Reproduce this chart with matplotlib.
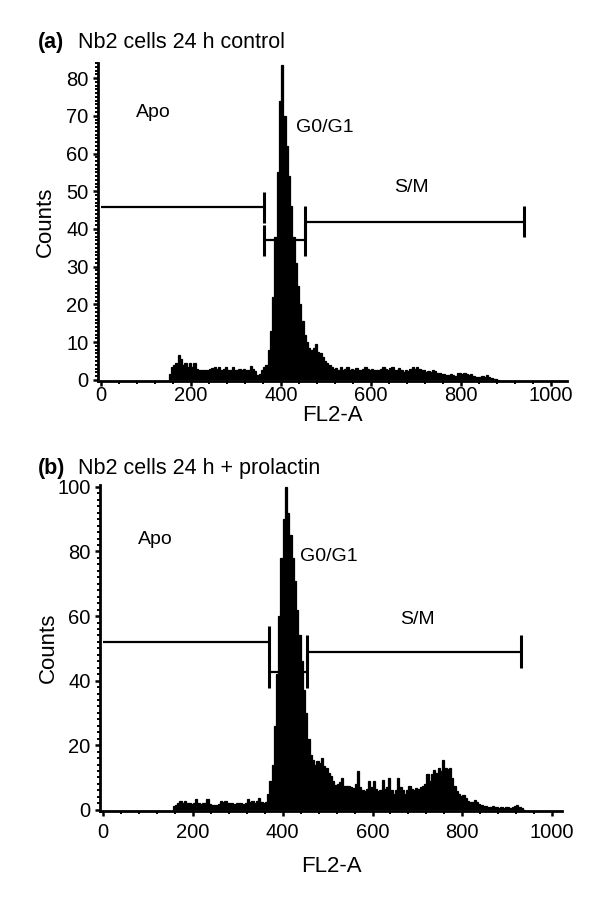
import numpy as np
import matplotlib.pyplot as plt
from matplotlib.ticker import MultipleLocator

plt.rcParams['font.family'] = ['Liberation Sans', 'DejaVu Sans']

# FL2-A histogram, panel (a): control, bins of 5 channels starting at 150
start_a = 150
counts_a = [
    1.5, 3.5, 4, 4.5, 6.5, 5.5, 4, 4.5, 3.5, 4.5,
    3.5, 4.5, 3, 2.5, 2.5, 2.5, 2.5, 2.5, 2.8, 3.2,
    3.5, 3, 3.5, 2.5, 2.8, 3.5, 2.6, 2.5, 3.3, 2.6,
    2.5, 3, 2.5, 2.8, 2.5, 2.6, 3.8, 3, 2.3, 1.3,
    1.5, 2.5, 3.5, 4, 8, 13, 22, 38, 55, 74,
    83.5, 70, 62, 54, 46, 38, 31, 25, 20, 15.5,
    12, 10, 8.5, 8, 8.5, 9.5, 7.5, 7, 6, 5,
    4.5, 4, 3.5, 2.8, 3.2, 2.6, 3.5, 2.5, 3, 3.5,
    2.6, 2.8, 2.5, 3.2, 2.6, 2.5, 2.8, 3.5, 3, 2.5,
    3, 2.5, 2.6, 2.5, 2.8, 3.5, 3, 2.5, 3.2, 3.5,
    2.6, 2.5, 3.1, 2.6, 2.2, 2.5, 2.4, 3, 3.5, 2.8,
    3.3, 3, 2.6, 2.6, 2.2, 2.4, 2.1, 2.5, 2.3, 1.8,
    1.8, 1.5, 1.5, 1.2, 1.3, 1.6, 1.2, 1.0, 1.8, 1.8,
    1.6, 1.8, 1.5, 1.2, 1.5, 1.0, 0.8, 0.8, 0.8, 1.0,
    0.8, 1.4, 0.8, 0.4, 0.3, 0.3, 0,
]

# panel (b): + prolactin, bins of 5 channels starting at 155
start_b = 155
counts_b = [
    1, 1.5, 2, 2.8, 2.2, 2.6, 2, 2, 1.8, 2.2,
    3.3, 2, 1.8, 2.2, 2, 3.3, 1.8, 1.5, 1.6, 1.5,
    1.8, 2.6, 2.4, 2.6, 2, 2, 2.2, 1.8, 2, 2.2,
    2, 1.8, 2.2, 3.4, 2.4, 2.6, 2.2, 2.8, 3.6, 2.4,
    2, 2.5, 5, 9, 14, 26, 42, 60, 78, 90,
    100, 92, 85, 78, 71, 62, 54, 46, 37, 30,
    22, 17, 15.5, 14, 15, 14.5, 16, 13.5, 13, 11.5,
    10.5, 9, 7.8, 8, 8.5, 9.8, 7.5, 7.5, 7.2, 7,
    6.8, 8, 11.9, 7, 6, 5.7, 6.5, 8.8, 7, 8.8,
    6.5, 5.7, 6.2, 9.3, 6.5, 7, 9.8, 6, 5, 6,
    9.8, 7, 6, 5, 6, 7.2, 6.5, 6, 6.7, 6.5,
    7, 7.5, 8, 11, 9, 11, 12.4, 11.5, 13, 12,
    15.3, 13, 12.5, 13, 9.8, 7.5, 5.7, 5, 4.3, 4.5,
    3.5, 2.6, 2.4, 2.5, 3.1, 2.5, 1.8, 1.5, 1.2, 1,
    0.8, 0.8, 1, 0.7, 0.8, 0.6, 0.8, 0.6, 0.8, 0.7,
    0.6, 0.7, 1.2, 1.5, 0.8, 0.4, 0,
]
bin_width = 5

# gates: start, end, level
gate_names = ["Apo", "G0/G1", "S/M"]
gates_a = [(0, 362, 45.8), (362, 452, 37), (452, 940, 41.9)]
gates_b = [(0, 370, 52), (370, 455, 42.8), (455, 930, 49)]
labels_a = [(78, 71), (432, 67), (650, 51)]
labels_b = [(78, 83.6), (438, 78.6), (662, 59)]

tags = ["(a)", "(b)"]
titles = ["Nb2 cells 24 h control", "Nb2 cells 24 h + prolactin"]

fig = plt.figure(figsize=(6, 9.14), dpi=100)
W, H = 600, 914


def add_ax(l, r, t, b):
    return fig.add_axes([l / W, 1 - b / H, (r - l) / W, (b - t) / H])


ax_a = add_ax(98, 567, 63, 381)
ax_b = add_ax(100, 562, 485, 811)

panels = [
    (ax_a, start_a, counts_a, gates_a, labels_a, 4.1, (-7, 1035), (-0.3, 84), 10, 1, -0.075, 0),
    (ax_b, start_b, counts_b, gates_b, labels_b, 5.0, (-7, 1022), (-0.4, 100.6), 20, 2, -0.138, 5),
]

for ax, start, counts, gates, labels, half, xl, yl, ymaj, ymin, xlab_y, xpad in panels:
    edges = start + bin_width * np.arange(len(counts) + 1)
    ax.stairs(counts, edges, fill=True, facecolor='black', edgecolor='black', lw=0.9)

    for x0, x1, y in gates:
        ax.plot([x0, x1], [y, y], color='black', lw=1.6, solid_capstyle='butt')
        for xe in (x0, x1):
            if xe > 0:
                ax.plot([xe, xe], [y - half, y + half], color='black', lw=2.2,
                        solid_capstyle='butt')
    for name, (lx, ly) in zip(gate_names, labels):
        ax.text(lx, ly, name, fontsize=14, va='center', ha='left')

    ax.set_xlim(*xl)
    ax.set_ylim(*yl)
    ax.spines['top'].set_visible(False)
    ax.spines['right'].set_visible(False)
    ax.spines['left'].set_linewidth(2)
    ax.spines['bottom'].set_linewidth(2)
    ax.xaxis.set_major_locator(MultipleLocator(200))
    ax.xaxis.set_minor_locator(MultipleLocator(40))
    ax.yaxis.set_major_locator(MultipleLocator(ymaj))
    ax.yaxis.set_minor_locator(MultipleLocator(ymin))
    ax.tick_params(which='major', length=3.8, width=1.8, labelsize=14.5)
    ax.tick_params(which='minor', length=2.4, width=1.4)
    ax.tick_params(axis='x', which='major', pad=xpad)
    ax.tick_params(axis='y', which='major', pad=3)
    ax.set_xlabel("FL2-A", fontsize=16)
    ax.set_ylabel("Counts", fontsize=16)
    ax.xaxis.set_label_coords(0.5, xlab_y)
    ax.yaxis.set_label_coords(-0.09, 0.5)

for i, y in enumerate([48, 474]):
    fig.text(38 / W, 1 - y / H, tags[i], fontsize=15.5, fontweight='bold',
             ha='left', va='baseline')
    fig.text(78 / W, 1 - y / H, titles[i], fontsize=15.5, ha='left', va='baseline')

fig.savefig("out.png", dpi=100)
